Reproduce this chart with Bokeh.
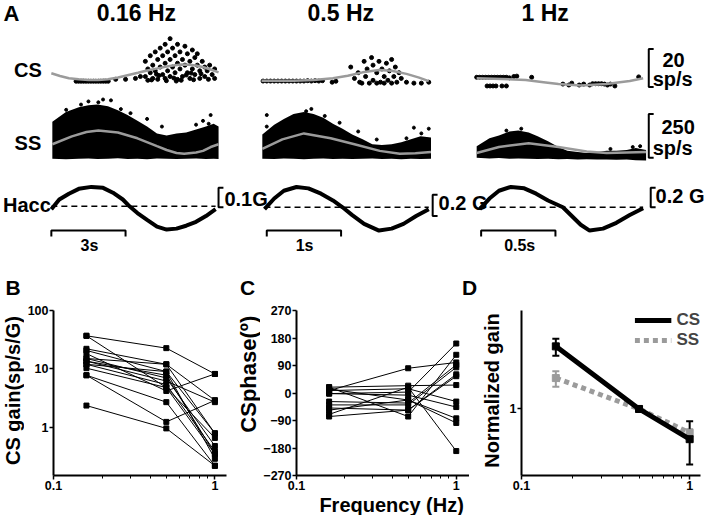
import math
from bokeh.plotting import figure
from bokeh.models import (Range1d, Label, FixedTicker, CustomJSTickFormatter, Whisker,
                          TeeHead, ColumnDataSource, Legend, LegendItem)
from bokeh.layouts import column, row
from bokeh.embed import file_html
from bokeh.resources import INLINE

FONT = "Liberation Sans"
GRAY = "#9b9b9b"

# ------------------------------------------------------------------ data
freq_titles = ["0.16 Hz", "0.5 Hz", "1 Hz"]
time_bar_s = [3, 1, 0.5]
time_bar_labels = ["3s", "1s", "0.5s"]
hacc_bar_g = [0.1, 0.2, 0.2]
hacc_bar_labels = ["0.1G", "0.2 G", "0.2 G"]
cs_bar_sps = 20
ss_bar_sps = 250

# CS instantaneous rate dots (time s, sp/s)
cs_dots_016 = [(1.0, 3.5), (1.1, 3.5), (1.2, 3.5), (1.3, 3.5), (1.4, 3.5), (1.5, 3.5), (1.6, 3.5),
               (1.7, 3.5), (1.8, 3.5), (1.9, 3.5), (2.0, 3.5), (2.1, 3.5), (2.2, 3.5), (2.3, 3.5),
               (2.6, 4.5), (3.0, 4.5), (3.4, 5), (3.6, 6),
               (3.8, 14), (3.8, 6), (3.9, 10), (3.9, 4), (4.0, 17), (4.0, 8), (4.1, 12), (4.1, 5),
               (4.2, 19), (4.2, 9), (4.3, 15), (4.3, 4.5), (4.4, 21), (4.4, 11), (4.5, 7), (4.5, 17),
               (4.6, 23), (4.6, 13), (4.6, 5), (4.7, 19), (4.7, 9), (4.8, 26), (4.8, 15), (4.8, 6),
               (4.9, 21), (4.9, 11), (5.0, 17), (5.0, 8), (5.1, 23), (5.1, 13), (5.1, 4.5), (5.2, 19),
               (5.2, 10), (5.3, 15), (5.3, 6), (5.4, 22), (5.4, 12), (5.5, 18), (5.5, 8), (5.6, 14),
               (5.6, 5), (5.7, 20), (5.7, 10), (5.8, 16), (5.8, 7), (5.9, 12), (5.9, 18), (6.0, 9),
               (6.0, 5), (6.1, 14), (6.2, 11), (6.2, 6), (6.3, 9), (6.4, 12), (6.5, 7), (6.6, 10),
               (6.6, 5), (4.05, 4.2), (4.35, 6.5), (4.65, 3.8), (4.95, 5.2), (5.25, 4.0), (5.45, 6.8),
               (5.75, 4.3), (6.05, 7.5), (6.35, 4.5), (4.25, 7.2), (5.05, 3.6), (5.65, 7.8)]
cs_dots_05 = [(0.02, 3.6), (0.07, 3.6), (0.12, 3.6), (0.17, 3.6), (0.22, 3.6), (0.27, 3.6), (0.32, 3.6),
              (0.37, 3.6), (0.42, 3.6), (0.47, 3.6), (0.52, 3.6), (0.57, 3.6), (0.62, 3.8), (0.67, 3.6),
              (0.72, 3.8), (0.77, 3.6), (0.82, 3.8), (0.95, 3.0), (1.0, 3.5),
              (1.2, 11), (1.25, 5), (1.3, 8), (1.32, 3), (1.38, 14), (1.4, 6), (1.42, 10), (1.48, 16),
              (1.5, 4), (1.5, 12), (1.55, 8), (1.58, 14), (1.6, 3), (1.62, 10), (1.65, 6), (1.68, 13),
              (1.7, 4), (1.72, 9), (1.75, 15), (1.78, 6), (1.8, 11), (1.82, 3), (1.85, 8), (1.88, 5),
              (1.35, 2.5), (1.45, 2.5), (1.55, 2.5), (1.65, 2.5), (1.75, 2.5),
              (1.95, 3.0), (2.05, 2.5), (2.15, 2.5), (2.25, 3.0)]
cs_dots_1 = [(0.0, 5.6), (0.02, 5.6), (0.04, 5.6), (0.06, 5.6), (0.08, 5.6), (0.1, 5.6), (0.12, 5.6),
             (0.14, 5.6), (0.16, 5.6), (0.18, 5.6), (0.2, 5.6), (0.22, 5.3), (0.25, 6.0), (0.27, 6.2),
             (0.37, 5.6), (0.07, 1.0), (0.09, 1.0), (0.11, 1.0), (0.13, 1.0), (0.17, 1.0), (0.2, 1.0),
             (0.58, 2.0), (0.62, 1.5), (0.64, 2.5), (0.69, 1.5), (0.72, 2.0), (0.76, 1.5), (0.78, 2.2),
             (0.8, 2.2), (0.82, 2.2), (0.84, 2.2), (0.86, 2.0), (0.88, 1.5), (0.9, 2.0), (0.93, 1.0),
             (1.09, 5.8)]

# CS fitted rate (grey curve)
cs_fit_016_t = [0, 0.35, 0.71, 1.1, 1.5, 1.9, 2.29, 2.7, 3.08, 3.5, 3.87, 4.3, 4.66, 5.0, 5.26, 5.55, 5.85, 6.15, 6.44, 6.76]
cs_fit_016_r = [7.7, 6.3, 5.1, 4.5, 4.1, 4.2, 4.6, 5.5, 6.7, 8.0, 9.2, 10.3, 11.3, 11.9, 12.3, 12.2, 11.8, 10.9, 9.7, 8.2]
cs_fit_05_t = [0, 0.43, 0.70, 0.96, 1.16, 1.36, 1.58, 1.75, 1.95, 2.12, 2.25]
cs_fit_05_r = [3.7, 3.7, 4.1, 5.1, 6.4, 8.2, 9.4, 9.0, 7.4, 5.4, 3.6]
cs_fit_1_t = [0, 0.17, 0.33, 0.45, 0.55, 0.70, 0.875, 0.95, 1.03, 1.12]
cs_fit_1_r = [5.1, 4.7, 4.1, 3.0, 2.05, 1.3, 2.05, 2.8, 3.6, 5.1]

# SS rate cloud: upper / lower envelope (sp/s)
ss_016_t = [0.04, 0.59, 1.11, 1.50, 1.86, 2.29, 2.69, 3.08, 3.48, 3.87, 4.27, 4.66, 5.06, 5.45, 5.85, 6.25, 6.56, 6.76]
ss_016_top = [261, 317, 345, 356, 361, 350, 328, 300, 267, 234, 195, 183, 195, 200, 217, 234, 250, 234]
ss_016_bot = [50, 47, 50, 52, 48, 50, 53, 49, 50, 47, 51, 50, 48, 50, 52, 49, 50, 48]
ss_05_t = [0.01, 0.17, 0.30, 0.43, 0.57, 0.70, 0.83, 0.96, 1.09, 1.22, 1.36, 1.49, 1.62, 1.75, 1.88, 2.01, 2.14, 2.28]
ss_05_top = [189, 245, 278, 306, 317, 306, 284, 250, 222, 189, 161, 133, 128, 133, 145, 161, 178, 172]
ss_05_bot = [50, 48, 51, 50, 47, 50, 52, 49, 50, 48, 50, 51, 49, 50, 47, 50, 49, 50]
ss_1_t = [0, 0.086, 0.15, 0.22, 0.28, 0.35, 0.41, 0.48, 0.55, 0.61, 0.68, 0.74, 0.81, 0.875, 0.94, 1.01, 1.07, 1.14]
ss_1_top = [122, 167, 183, 206, 211, 200, 178, 150, 117, 95, 89, 83, 89, 95, 95, 100, 111, 100]
ss_1_bot = [56, 52, 54, 50, 52, 50, 48, 50, 47, 48, 46, 47, 45, 46, 44, 45, 42, 40]
ss_out_016 = [(2.09, 389), (2.41, 384), (1.90, 373), (6.44, 300), (6.36, 250), (2.81, 334), (1.5, 378),
              (3.2, 311), (3.87, 278), (4.47, 234), (5.85, 245), (6.13, 267), (0.6, 330), (1.2, 360)]
ss_out_05 = [(0.07, 300), (0.07, 234), (2.05, 228), (2.25, 222), (0.67, 335), (0.6, 322), (0.85, 295),
             (1.05, 256), (1.3, 206), (1.55, 160), (1.95, 167), (2.15, 195)]
ss_out_1 = [(0.3, 222), (0.2, 211), (0.9, 106), (1.1, 122), (1.05, 117)]
# SS fitted rate
ss_fit_016_t = [0.04, 0.83, 1.42, 1.90, 2.69, 3.48, 4.27, 4.66, 5.06, 5.37, 5.85, 6.13, 6.44, 6.76]
ss_fit_016_r = [133, 178, 203, 211, 200, 167, 122, 100, 83, 78, 86, 95, 117, 133]
ss_fit_05_t = [0.01, 0.28, 0.57, 0.93, 1.25, 1.59, 1.86, 2.07, 2.28]
ss_fit_05_r = [106, 161, 195, 167, 133, 95, 78, 81, 89]
ss_fit_1_t = [0, 0.15, 0.35, 0.55, 0.74, 0.875, 1.01, 1.14]
ss_fit_1_r = [83, 117, 139, 117, 92, 83, 86, 89]

# Horizontal acceleration (G)
hacc_016_t = [0, 0.32, 0.71, 1.11, 1.62, 2.09, 2.49, 2.89, 3.16, 3.48, 3.87, 4.27, 4.66, 5.06, 5.45, 5.85, 6.25, 6.64]
hacc_016_g = [-0.015, 0.035, 0.065, 0.09, 0.10, 0.095, 0.07, 0.035, 0, -0.035, -0.07, -0.105, -0.12, -0.115, -0.1, -0.08, -0.05, -0.015]
hacc_05_t = [0.04, 0.17, 0.30, 0.47, 0.63, 0.80, 0.96, 1.09, 1.22, 1.38, 1.58, 1.75, 1.91, 2.08, 2.25]
hacc_05_g = [-0.018, 0.082, 0.155, 0.19, 0.177, 0.127, 0.064, 0, -0.073, -0.155, -0.218, -0.2, -0.155, -0.082, -0.018]
hacc_1_t = [0.02, 0.086, 0.15, 0.23, 0.32, 0.40, 0.48, 0.58, 0.64, 0.70, 0.76, 0.85, 0.94, 1.03, 1.12]
hacc_1_g = [-0.02, 0.09, 0.17, 0.21, 0.195, 0.14, 0.07, 0, -0.09, -0.18, -0.24, -0.22, -0.16, -0.08, -0.01]

# Panel B: CS gain per cell at 0.16, 0.5, 1 Hz
freqs = [0.16, 0.5, 1.0]
cs_gain_cells = [
    [36.9, 22.7, 8.2], [36.9, 4.8, 0.35], [22.1, 12.0, 2.9], [20.7, 9.0, 0.79], [18.3, 4.2, 8.2],
    [15.1, 7.0, 0.48], [13.6, 6.2, 2.7], [12.0, 5.4, 0.39], [12.0, 9.0, 0.29], [10.3, 4.8, 0.66],
    [7.8, 2.7, 0.22], [7.8, 1.24, 2.9], [2.36, 0.96, 0.22], [15.1, 12.0, 0.79], [13.6, 7.8, 0.35]]
# Panel C: CS phase per cell (deg)
cs_phase_cells = [
    [8, 81, 100], [19, 24, 26], [19, -77, 125], [-2, 3, 162], [8, 14, -28], [-2, -7, -46],
    [13, -23, -83], [-28, -33, 92], [-39, -39, 84], [-49, -56, 61], [-56, -23, -98],
    [-70, 19, -190], [-77, -56, 55]]
# Panel D: normalized gain (mean, lower, upper)
cs_norm = [1.92, 1.0, 0.73]
cs_norm_lo = [1.74, 1.0, 0.56]
cs_norm_hi = [2.08, 1.0, 0.88]
ss_norm = [1.38, 1.0, 0.78]
ss_norm_lo = [1.26, 1.0, 0.75]
ss_norm_hi = [1.48, 1.0, 0.81]

x_major = [0.1, 1]
x_minor = [0.2, 0.3, 0.4, 0.5, 0.6, 0.7, 0.8, 0.9]
gain_ticks = [1, 10, 100]
phase_ticks = [-270, -180, -90, 0, 90, 180, 270]
norm_ticks = [1]

# ------------------------------------------------------------------ layout constants
W, H = 720, 308               # panel A canvas in reference px
col_x0 = [52, 267, 487]       # trace start (canvas px)
col_pxs = [25.3, 76, 152]     # canvas px per second
cs_zero, cs_pxs = 90, 1.95
ss_zero, ss_pxs = 172, 0.18
g_zero = [212, 213, 213]
g_pxs = [200, 110, 100]
bar_start = [0, 0.07, 0.03]


def lab(p, text, x, y, size, align="left", angle=0, baseline="middle", color="black"):
    p.add_layout(Label(x=x, y=y, text=text, text_font=FONT,
                       text_font_style="bold", text_font_size=size, text_align=align,
                       text_baseline=baseline, angle=angle, text_color=color))


def canvas(width, height, xr, yr):
    return figure(width=width, height=height, x_range=Range1d(*xr), y_range=Range1d(*yr),
                  x_axis_type=None, y_axis_type=None, toolbar_location=None, output_backend="svg",
                  min_border=0, outline_line_color=None)


pA = canvas(704, 299, (0, W), (H, 0))
pA.extra_y_ranges["cs"] = Range1d((cs_zero - H) / cs_pxs, cs_zero / cs_pxs)
pA.extra_y_ranges["ss"] = Range1d((ss_zero - H) / ss_pxs, ss_zero / ss_pxs)
for j in range(3):
    pA.extra_x_ranges[f"t{j}"] = Range1d(-col_x0[j] / col_pxs[j], (W - col_x0[j]) / col_pxs[j])
    pA.extra_y_ranges[f"g{j}"] = Range1d((g_zero[j] - H) / g_pxs[j], g_zero[j] / g_pxs[j])

cs_dots = [cs_dots_016, cs_dots_05, cs_dots_1]
cs_fits = [(cs_fit_016_t, cs_fit_016_r), (cs_fit_05_t, cs_fit_05_r), (cs_fit_1_t, cs_fit_1_r)]
ss_env = [(ss_016_t, ss_016_bot, ss_016_top), (ss_05_t, ss_05_bot, ss_05_top), (ss_1_t, ss_1_bot, ss_1_top)]
ss_out = [ss_out_016, ss_out_05, ss_out_1]
ss_fits = [(ss_fit_016_t, ss_fit_016_r), (ss_fit_05_t, ss_fit_05_r), (ss_fit_1_t, ss_fit_1_r)]
haccs = [(hacc_016_t, hacc_016_g), (hacc_05_t, hacc_05_g), (hacc_1_t, hacc_1_g)]

for j in range(3):
    xr = f"t{j}"
    t, r = zip(*cs_dots[j])
    pA.scatter(list(t), list(r), x_range_name=xr, y_range_name="cs", size=4, color="black")
    pA.line(cs_fits[j][0], cs_fits[j][1], x_range_name=xr, y_range_name="cs", color=GRAY, line_width=2.5)
    st, sb, stop = ss_env[j]
    pA.varea(x=st, y1=sb, y2=stop, x_range_name=xr, y_range_name="ss", fill_color="black")
    ot, orr = zip(*ss_out[j])
    pA.scatter(list(ot), list(orr), x_range_name=xr, y_range_name="ss", size=3, color="black")
    pA.line(ss_fits[j][0], ss_fits[j][1], x_range_name=xr, y_range_name="ss", color=GRAY, line_width=2.5)
    ht, hg = haccs[j]
    pA.line([ht[0], ht[-1]], [0, 0], x_range_name=xr, y_range_name=f"g{j}", color="black",
            line_width=1.5, line_dash="6 4")
    pA.line(ht, hg, x_range_name=xr, y_range_name=f"g{j}", color="black", line_width=4)
    # time scale bar
    s0, L = bar_start[j], time_bar_s[j]
    pA.line([s0, s0, s0 + L, s0 + L], [243, 237, 237, 243], x_range_name=xr, color="black", line_width=2)
    lab(pA, time_bar_labels[j], [91, 311, 531][j], 252, "16px", align="center")
    lab(pA, freq_titles[j], [139, 348, 557][j], 13, "23px", align="center")
    # Hacc scale bracket
    bx = [223, 442, 665][j]
    lo = [-0.005, -0.082, 0.0][j]
    pA.line([bx + 5, bx, bx, bx + 5], [lo, lo, lo + hacc_bar_g[j], lo + hacc_bar_g[j]],
            y_range_name=f"g{j}", color="black", line_width=2)
    lab(pA, hacc_bar_labels[j], [229, 448, 670][j], [204, 209, 201][j], "20px")

# CS / SS brackets
pA.line([668, 663, 663, 668], [0.5, 0.5, 0.5 + cs_bar_sps, 0.5 + cs_bar_sps], y_range_name="cs",
        color="black", line_width=2)
pA.line([668, 663, 663, 668], [55.6, 55.6, 55.6 + ss_bar_sps, 55.6 + ss_bar_sps], y_range_name="ss",
        color="black", line_width=2)
lab(pA, str(cs_bar_sps), 677, 61, "20px")
lab(pA, "sp/s", 667, 81, "20px")
lab(pA, str(ss_bar_sps), 676, 130, "20px")
lab(pA, "sp/s", 667, 152, "20px")
lab(pA, "A", 3, 13, "22px")
lab(pA, "CS", 28, 72, "20px", align="center")
lab(pA, "SS", 28, 147, "20px", align="center")
lab(pA, "Hacc", 27, 211, "20px", align="center")
lab(pA, "B", 5, 296, "21px")
lab(pA, "C", 245, 296, "21px")
lab(pA, "D", 472, 296, "21px")

# ------------------------------------------------------------------ bottom panels
fmt = CustomJSTickFormatter(code="return String(parseFloat(tick.toPrecision(3)));")
ROW_H = 196
YR = (510, 308)


def style(p):
    p.grid.visible = False
    for ax in (p.xaxis[0], p.yaxis[0]):
        ax.axis_line_width = 2
        ax.axis_line_color = "black"
        ax.major_tick_line_width = 1.5
        ax.minor_tick_line_width = 1
        ax.major_tick_out = 4
        ax.major_tick_in = 0
        ax.minor_tick_out = 3
        ax.minor_tick_in = 0
        ax.major_label_text_font = FONT
        ax.major_label_text_font_style = "bold"
        ax.major_label_text_font_size = "12.5px"
        ax.major_label_text_color = "black"
        ax.major_label_standoff = 1
    p.xaxis.ticker = FixedTicker(ticks=x_major, minor_ticks=x_minor)
    p.xaxis.formatter = fmt
    p.yaxis.minor_tick_line_color = None


common = dict(height=ROW_H, toolbar_location=None, output_backend="svg", outline_line_color=None,
              min_border_top=11, min_border_bottom=20)

# label strips
sB = canvas(24, ROW_H, (0, 24.5), YR)
lab(sB, "CS gain(sp/s/G)", 12.5, 406, "20px", align="center", angle=math.pi / 2)
sC = canvas(25, ROW_H, (240, 265.6), YR)
lab(sC, "CSphase(º)", 253, 386, "22px", align="center", angle=math.pi / 2)
sD = canvas(35, ROW_H, (480, 515.8), YR)
lab(sD, "Normalized gain", 503, 406, "20px", align="center", angle=math.pi / 2)

pB = figure(width=211, x_axis_type="log", y_axis_type="log", x_range=Range1d(0.1, 1.18),
            y_range=Range1d(0.15, 100), min_border_left=25, min_border_right=9, **common)
style(pB)
pB.yaxis.ticker = FixedTicker(ticks=gain_ticks)
pB.yaxis.formatter = fmt
for cell in cs_gain_cells:
    pB.line(freqs, cell, color="black", line_width=1)
    pB.scatter(freqs, cell, marker="square", size=5, color="black")

pC = figure(width=209, x_axis_type="log", x_range=Range1d(0.1, 1.21), y_range=Range1d(-270, 270),
            min_border_left=29, min_border_right=0, **common)
style(pC)
pC.yaxis.ticker = FixedTicker(ticks=phase_ticks)
for cell in cs_phase_cells:
    pC.line(freqs, cell, color="black", line_width=1)
    pC.scatter(freqs, cell, marker="square", size=5, color="black")

pD = figure(width=200, x_axis_type="log", y_axis_type="log", x_range=Range1d(0.1, 1.16),
            y_range=Range1d(0.5, 2.79), min_border_left=17, min_border_right=4, **common)
style(pD)
pD.yaxis.ticker = FixedTicker(ticks=norm_ticks)
pD.yaxis.formatter = fmt
ss_src = ColumnDataSource(dict(x=freqs, y=ss_norm, lo=ss_norm_lo, hi=ss_norm_hi))
cs_src = ColumnDataSource(dict(x=freqs, y=cs_norm, lo=cs_norm_lo, hi=cs_norm_hi))
ss_line = pD.line("x", "y", source=ss_src, color=GRAY, line_width=5, line_dash="5 4")
pD.add_layout(Whisker(base="x", lower="lo", upper="hi", source=ss_src, line_color=GRAY, line_width=2,
                      upper_head=TeeHead(size=7, line_color=GRAY, line_width=2),
                      lower_head=TeeHead(size=7, line_color=GRAY, line_width=2)))
pD.scatter("x", "y", source=ss_src, marker="square", size=7, color=GRAY)
cs_line = pD.line("x", "y", source=cs_src, color="black", line_width=5)
pD.add_layout(Whisker(base="x", lower="lo", upper="hi", source=cs_src, line_color="black", line_width=2,
                      upper_head=TeeHead(size=7, line_color="black", line_width=2),
                      lower_head=TeeHead(size=7, line_color="black", line_width=2)))
pD.scatter("x", "y", source=cs_src, marker="square", size=7, color="black")
leg = Legend(items=[LegendItem(label="CS", renderers=[cs_line]), LegendItem(label="SS", renderers=[ss_line])],
             location="top_right", border_line_color=None, background_fill_alpha=0,
             label_text_font=FONT, label_text_font_style="bold", label_text_font_size="17px",
             glyph_width=37, glyph_height=20, spacing=0, padding=0, margin=0, label_standoff=5)
pD.add_layout(leg)

pF = canvas(704, 20, (0, W), (531, 510))
lab(pF, "Frequency (Hz)", 400, 520, "20px", align="center")

layout = column(pA, row(sB, pB, sC, pC, sD, pD), pF)
open("out.html", "w").write(file_html(layout, INLINE))
